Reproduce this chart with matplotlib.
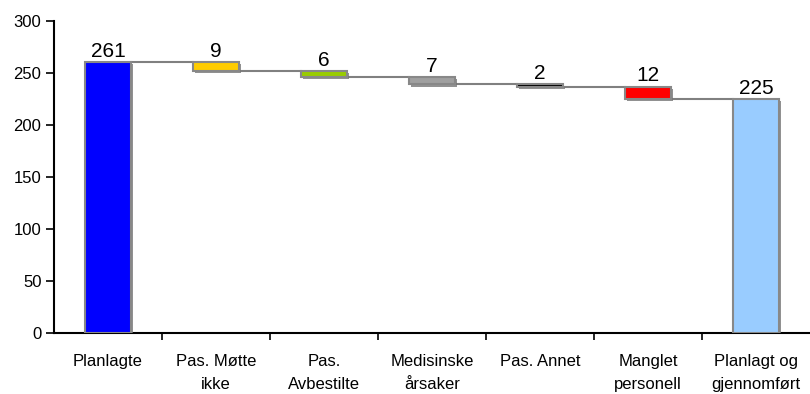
import numpy as np
import matplotlib
matplotlib.use("Agg")
import matplotlib.pyplot as plt
import matplotlib.patheffects as pe

plt.rcParams['font.family'] = ['Liberation Sans', 'DejaVu Sans']

categories = ["Planlagte", "Pas. Møtte\nikke", "Pas.\nAvbestilte", "Medisinske\nårsaker",
              "Pas. Annet", "Manglet\npersonell", "Planlagt og\ngjennomført"]
values = [261, -9, -6, -7, -2, -12, 225]
is_total = [True, False, False, False, False, False, True]
colors = ["#0000FF", "#FFCC00", "#99CC00", "#A0A0A0", "#000000", "#FF0000", "#99CCFF"]

fig = plt.figure(figsize=(8.1, 3.94), dpi=100)
ax = fig.add_axes([54 / 810, 61 / 394, 756 / 810, 312 / 394])

x = np.arange(len(categories))
width = 0.42

# bottoms and tops of each bar
running = 0
bottoms, tops = [], []
for v, tot in zip(values, is_total):
    if tot:
        bottoms.append(0)
        tops.append(v)
        running = v
    else:
        tops.append(running)
        running = running + v
        bottoms.append(running)

heights = [t - b for t, b in zip(tops, bottoms)]
bars = ax.bar(x, heights, width, bottom=bottoms, color=colors,
              edgecolor="#888888", linewidth=1.5, zorder=3)
for b in bars:
    b.set_path_effects([pe.SimplePatchShadow(offset=(1.5, -1.5), shadow_rgbFace="#777777", alpha=0.8),
                        pe.Normal()])

# connector lines
levels = []
running = 0
for v, tot in zip(values, is_total):
    running = v if tot else running + v
    levels.append(running)
for i in range(len(x) - 1):
    ax.plot([x[i] + width / 2, x[i + 1] - width / 2], [levels[i], levels[i]],
            color="#808080", linewidth=1.5, zorder=2)

# value labels
for xi, t, v in zip(x, tops, values):
    ax.text(xi, t + 1, str(abs(v)), ha="center", va="bottom", fontsize=15, zorder=4)

ax.set_xlim(-0.5, len(categories) - 0.5)
ax.set_ylim(0, 300)
ax.set_yticks(np.arange(0, 301, 50))
ax.tick_params(axis="y", direction="out", length=6, width=1.2, labelsize=12, pad=3)

ax.set_xticks(np.arange(0.5, len(categories) - 0.5, 1))
ax.set_xticklabels([])
ax.tick_params(axis="x", which="major", direction="out", length=5, width=1.2)
ax.set_xticks(x, minor=True)
ax.set_xticklabels(categories, minor=True, fontsize=12, linespacing=1.65, va="top")
ax.tick_params(axis="x", which="minor", length=0, pad=15)

for s in ["top", "right"]:
    ax.spines[s].set_visible(False)
ax.spines["left"].set_linewidth(1.5)
ax.spines["bottom"].set_linewidth(1.5)

fig.savefig("out.png", dpi=100)
